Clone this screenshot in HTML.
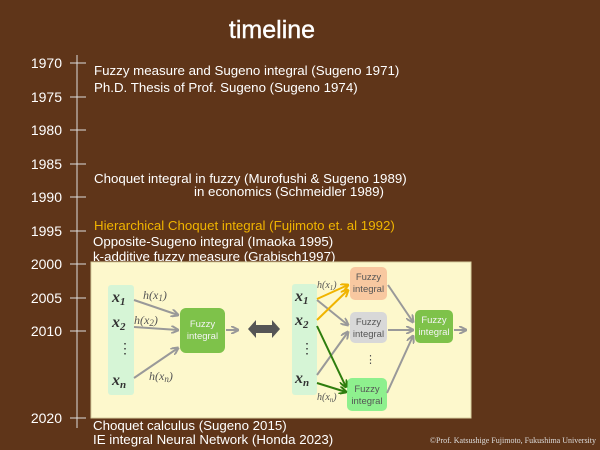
<!DOCTYPE html>
<html><head><meta charset="utf-8"><style>
html,body{margin:0;padding:0;background:#5f3519;}
svg{display:block}
text{font-family:"Liberation Sans",sans-serif;}
.w{fill:#fff;font-size:13.3px}
.y{fill:#fff;font-size:14px}
.m{font-family:"Liberation Serif",serif;font-style:italic;font-weight:bold;fill:#333;font-size:16px}
.h{font-family:"Liberation Serif",serif;font-style:italic;fill:#555;font-size:12px}
.f{fill:#555;font-size:9.5px}
</style></head><body>
<svg width="600" height="450" viewBox="0 0 600 450">
<defs>
<marker id="ag" markerWidth="8" markerHeight="8" refX="7" refY="4" orient="auto" markerUnits="userSpaceOnUse"><path d="M0,0 L8,4 L0,8" fill="none" stroke="#999" stroke-width="2"/></marker>
<marker id="ao" markerWidth="8" markerHeight="8" refX="7" refY="4" orient="auto" markerUnits="userSpaceOnUse"><path d="M0,0 L8,4 L0,8" fill="none" stroke="#f0b400" stroke-width="2"/></marker>
<marker id="an" markerWidth="8" markerHeight="8" refX="7" refY="4" orient="auto" markerUnits="userSpaceOnUse"><path d="M0,0 L8,4 L0,8" fill="none" stroke="#2e7d0e" stroke-width="2"/></marker>
</defs>
<rect width="600" height="450" fill="#5f3519"/>
<text x="272" y="38" text-anchor="middle" fill="#fff" font-size="25" style="stroke:#fff;stroke-width:0.4">timeline</text>
<line x1="77" y1="55" x2="77" y2="428" stroke="#ddd" stroke-width="1"/>
<g stroke="#ddd" stroke-width="1">
<line x1="70" y1="63" x2="86" y2="63"/><line x1="70" y1="97" x2="86" y2="97"/><line x1="70" y1="130" x2="86" y2="130"/><line x1="70" y1="164" x2="86" y2="164"/><line x1="70" y1="197" x2="86" y2="197"/><line x1="70" y1="231" x2="86" y2="231"/><line x1="70" y1="264" x2="86" y2="264"/><line x1="70" y1="298" x2="86" y2="298"/><line x1="70" y1="331" x2="86" y2="331"/><line x1="70" y1="418" x2="86" y2="418"/>
</g>
<g class="y" text-anchor="end">
<text x="62" y="68">1970</text><text x="62" y="102">1975</text><text x="62" y="135">1980</text><text x="62" y="169">1985</text><text x="62" y="202">1990</text><text x="62" y="236">1995</text><text x="62" y="269">2000</text><text x="62" y="303">2005</text><text x="62" y="336">2010</text><text x="62" y="423">2020</text>
</g>
<g class="w">
<text x="94" y="75">Fuzzy measure and Sugeno integral (Sugeno 1971)</text>
<text x="94" y="92">Ph.D. Thesis of Prof. Sugeno (Sugeno 1974)</text>
<text x="94" y="183">Choquet integral in fuzzy (Murofushi &amp; Sugeno 1989)</text>
<text x="194" y="196">in economics (Schmeidler 1989)</text>
<text x="94" y="230" style="fill:#f0b400">Hierarchical Choquet integral (Fujimoto et. al 1992)</text>
<text x="93" y="246">Opposite-Sugeno integral (Imaoka 1995)</text>
<text x="93" y="261">k-additive fuzzy measure (Grabisch1997)</text>
<text x="93" y="430">Choquet calculus (Sugeno 2015)</text>
<text x="93" y="444">IE integral Neural Network (Honda 2023)</text>
</g>
<text x="596" y="443" text-anchor="end" style="fill:#ddd;font-size:8px;font-family:'Liberation Serif',serif">©Prof. Katsushige Fujimoto, Fukushima University</text>
<rect x="91" y="262" width="380" height="156" fill="#fdf8cc" stroke="#d8d0a0"/>
<rect x="108" y="285" width="26" height="110" rx="3" fill="#d6f5d6"/>
<text class="m" x="112" y="302">x<tspan font-size="11" dy="3">1</tspan></text>
<text class="m" x="112" y="327">x<tspan font-size="11" dy="3">2</tspan></text>
<text x="118" y="353" fill="#333" font-size="14">⋮</text>
<text class="m" x="112" y="385">x<tspan font-size="11" dy="3">n</tspan></text>
<rect x="180" y="308" width="45" height="45" rx="6" fill="#7ec24a"/>
<text class="f" x="202.5" y="327" text-anchor="middle" style="fill:#f4f4f4">Fuzzy</text>
<text class="f" x="202.5" y="339" text-anchor="middle" style="fill:#f4f4f4">integral</text>
<g stroke="#999" stroke-width="2" fill="none">
<line x1="134" y1="300" x2="178" y2="315" marker-end="url(#ag)"/>
<line x1="134" y1="327" x2="178" y2="330" marker-end="url(#ag)"/>
<line x1="134" y1="378" x2="178" y2="348" marker-end="url(#ag)"/>
<line x1="226" y1="330" x2="238" y2="330" marker-end="url(#ag)"/>
</g>
<text class="h" x="143" y="299">h(x<tspan font-size="9" dy="2">1</tspan><tspan dy="-2">)</tspan></text>
<text class="h" x="134" y="324">h(x<tspan font-size="9" dy="2">2</tspan><tspan dy="-2">)</tspan></text>
<text class="h" x="149" y="380">h(x<tspan font-size="9" dy="2">n</tspan><tspan dy="-2">)</tspan></text>
<path d="M248,329 L256,320 L256,325 L272,325 L272,320 L280,329 L272,338 L272,333 L256,333 L256,338 Z" fill="#555"/>
<rect x="292" y="284" width="25" height="111" rx="3" fill="#d6f5d6"/>
<text class="m" x="295" y="301">x<tspan font-size="11" dy="3">1</tspan></text>
<text class="m" x="295" y="325">x<tspan font-size="11" dy="3">2</tspan></text>
<text x="300" y="353" fill="#333" font-size="14">⋮</text>
<text class="m" x="295" y="383">x<tspan font-size="11" dy="3">n</tspan></text>
<rect x="350" y="267" width="37" height="33" rx="5" fill="#f8c8a0"/>
<rect x="350" y="312" width="37" height="31" rx="5" fill="#d8d8d8"/>
<rect x="347" y="378" width="40" height="33" rx="5" fill="#8ef08e"/>
<rect x="415" y="310" width="38" height="33" rx="5" fill="#7ec24a"/>
<g class="f" text-anchor="middle">
<text x="368.5" y="280">Fuzzy</text><text x="368.5" y="292">integral</text>
<text x="368.5" y="325">Fuzzy</text><text x="368.5" y="337">integral</text>
<text x="367" y="392">Fuzzy</text><text x="367" y="404">integral</text>
<text x="434" y="323" style="fill:#f4f4f4">Fuzzy</text><text x="434" y="335" style="fill:#f4f4f4">integral</text>
</g>
<text x="365" y="363" fill="#555" font-size="11">⋮</text>
<g stroke="#999" stroke-width="2" fill="none">
<line x1="317" y1="300" x2="348" y2="325" marker-end="url(#ag)"/>
<line x1="317" y1="375" x2="348" y2="332" marker-end="url(#ag)"/>
<line x1="388" y1="285" x2="413" y2="322" marker-end="url(#ag)"/>
<line x1="388" y1="330" x2="413" y2="330" marker-end="url(#ag)"/>
<line x1="387" y1="393" x2="413" y2="336" marker-end="url(#ag)"/>
<line x1="454" y1="330" x2="466" y2="330" marker-end="url(#ag)"/>
</g>
<g stroke="#f0b400" stroke-width="2" fill="none">
<line x1="317" y1="299" x2="348" y2="285" marker-end="url(#ao)"/>
<line x1="317" y1="320" x2="348" y2="290" marker-end="url(#ao)"/>
</g>
<g stroke="#2e7d0e" stroke-width="2" fill="none">
<line x1="317" y1="326" x2="346" y2="387" marker-end="url(#an)"/>
<line x1="317" y1="383" x2="346" y2="392" marker-end="url(#an)"/>
</g>
<text class="h" x="317" y="288" style="font-size:10px">h(x<tspan font-size="7" dy="2">1</tspan><tspan dy="-2">)</tspan></text>
<text class="h" x="317" y="400" style="font-size:10px">h(x<tspan font-size="7" dy="2">n</tspan><tspan dy="-2">)</tspan></text>
</svg>
</body></html>
